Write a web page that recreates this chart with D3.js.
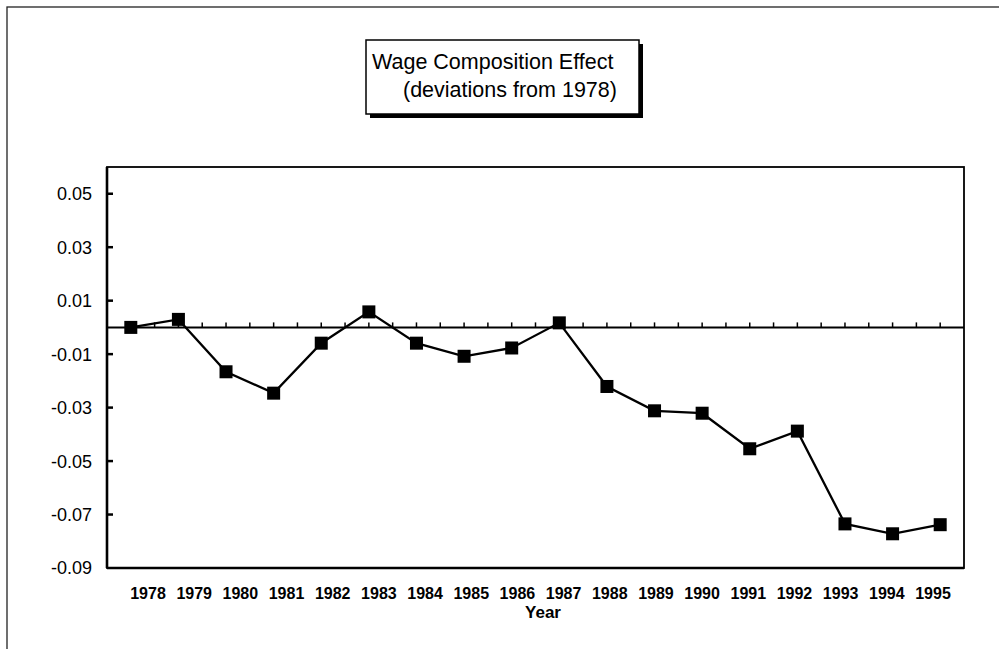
<!DOCTYPE html>
<html lang="en">
<head>
  <meta charset="UTF-8" />
  <title>Wage Composition Effect</title>
  <script src="https://d3js.org/d3.v7.min.js"></script>
  <style>
    body { margin:0; padding:0; background:#fff; font-family:"Liberation Sans", Arial, sans-serif; }
    svg { display:block; }
    .ylab { font-size:18px; fill:#000; }
    .xlab { font-size:16px; font-weight:bold; fill:#000; font-family:"Liberation Sans Narrow", "Arial Narrow", "Liberation Sans", sans-serif; }
    .title { font-size:21.5px; fill:#000; }
  </style>
</head>
<body>
  <svg width="999" height="649"></svg>

  <script>
  // data
  const years  = [1978, 1979, 1980, 1981, 1982, 1983, 1984, 1985, 1986,
                  1987, 1988, 1989, 1990, 1991, 1992, 1993, 1994, 1995];
  const effect = [0.000, 0.003, -0.0166, -0.0246, -0.0059, 0.0058, -0.0059, -0.0108, -0.0077,
                  0.0017, -0.0221, -0.0312, -0.0321, -0.0454, -0.0388, -0.0735, -0.0772, -0.0738];
  const yTicks = [0.05, 0.03, 0.01, -0.01, -0.03, -0.05, -0.07, -0.09];
  const titleLines = ["Wage Composition Effect", "(deviations from 1978)"];

  const svg = d3.select('svg');
  const M = { left:107, top:167, right:35, bottom:81 };
  const W = 999, H = 649;
  const pw = W - M.left - M.right, ph = H - M.top - M.bottom;

  // outer frame (only left + top show on the scan)
  svg.append('rect')
    .attr('x', 7).attr('y', 7).attr('width', 1100).attr('height', 800)
    .attr('fill', 'none').attr('stroke', '#222').attr('stroke-width', 1.3);

  // title box with drop shadow
  const tb = { x:366, y:40, w:273, h:74 };
  svg.append('rect')
    .attr('x', tb.x + 4).attr('y', tb.y + 4).attr('width', tb.w).attr('height', tb.h)
    .attr('fill', '#000');
  svg.append('rect')
    .attr('x', tb.x).attr('y', tb.y).attr('width', tb.w).attr('height', tb.h)
    .attr('fill', '#fff').attr('stroke', '#000').attr('stroke-width', 1.5);
  svg.selectAll('.title').data(titleLines).enter().append('text')
    .attr('class', 'title')
    .attr('x', (d, i) => i === 0 ? tb.x + 6 : tb.x + 37)
    .attr('y', (d, i) => tb.y + 29 + i * 28)
    .text(d => d);

  const g = svg.append('g').attr('transform', `translate(${M.left},${M.top})`);

  const x = d3.scaleBand().domain(years).range([0, pw]);
  const y = d3.scaleLinear().domain([-0.09, 0.06]).range([ph, 0]);
  // the scanned year labels sit on a slightly different spacing than the marks
  const xLab = d3.scalePoint().domain(years).range([148 - M.left, 933 - M.left]);

  // plot frame
  g.append('rect')
    .attr('width', pw).attr('height', ph)
    .attr('fill', 'none').attr('stroke', '#000').attr('stroke-width', 1.8);
  g.append('line').attr('x1', 0).attr('x2', 0).attr('y1', 0).attr('y2', ph)
    .attr('stroke', '#000').attr('stroke-width', 2.6);
  g.append('line').attr('x1', 0).attr('x2', pw).attr('y1', ph).attr('y2', ph)
    .attr('stroke', '#000').attr('stroke-width', 2.4);

  // y ticks (inside) and labels
  g.selectAll('.ytick').data(yTicks.filter(d => d > -0.09)).enter().append('line')
    .attr('x1', 0).attr('x2', 6)
    .attr('y1', d => y(d)).attr('y2', d => y(d))
    .attr('stroke', '#000').attr('stroke-width', 2.5);
  g.selectAll('.ylab').data(yTicks).enter().append('text')
    .attr('class', 'ylab')
    .attr('x', -15)
    .attr('y', d => y(d))
    .attr('dy', '0.36em')
    .attr('text-anchor', 'end')
    .text(d => d3.format('.2f')(d).replace('\u2212', '-'));

  // zero line with upward ticks every half category
  g.append('line')
    .attr('x1', 0).attr('x2', pw)
    .attr('y1', y(0)).attr('y2', y(0))
    .attr('stroke', '#000').attr('stroke-width', 2);
  const half = x.bandwidth() / 2;
  const zTicks = years.flatMap((d, i) => i === 0 ? [x(d) + half] : [x(d), x(d) + half]);
  g.selectAll('.ztick').data(zTicks).enter().append('line')
    .attr('x1', d => d).attr('x2', d => d)
    .attr('y1', y(0)).attr('y2', y(0) - 5)
    .attr('stroke', '#000').attr('stroke-width', 1.5);

  // year labels
  g.selectAll('.xlab').data(years).enter().append('text')
    .attr('class', 'xlab')
    .attr('x', d => xLab(d))
    .attr('y', ph + 31)
    .attr('text-anchor', 'middle')
    .text(d => d);
  g.append('text')
    .attr('class', 'xlab')
    .style('font-size', '17px')
    .attr('x', 543 - M.left)
    .attr('y', ph + 50)
    .attr('text-anchor', 'middle')
    .text('Year');

  // series
  const pts = years.map((d, i) => ({ year:d, v:effect[i] }));
  g.append('path')
    .datum(pts)
    .attr('fill', 'none')
    .attr('stroke', '#000')
    .attr('stroke-width', 2.3)
    .attr('d', d3.line().x(d => x(d.year) + half).y(d => y(d.v)));
  const S = 13;
  g.selectAll('.mark').data(pts).enter().append('rect')
    .attr('x', d => x(d.year) + half - S / 2)
    .attr('y', d => y(d.v) - S / 2)
    .attr('width', S).attr('height', S)
    .attr('fill', '#000');
  </script>
</body>
</html>
